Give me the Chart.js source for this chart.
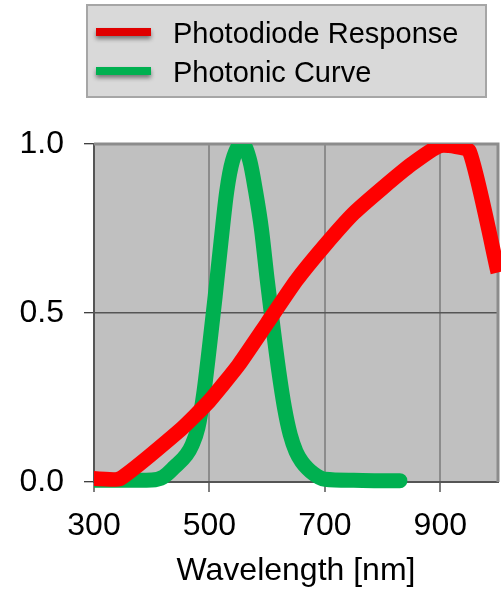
<!DOCTYPE html>
<html>
<head>
<meta charset="utf-8">
<script src="https://cdn.jsdelivr.net/npm/chart.js@4.4.0/dist/chart.umd.min.js"></script>
<style>
  html, body { margin: 0; padding: 0; background: #fff; }
  #wrap { width: 501px; height: 589px; }
</style>
</head>
<body>
<div id="wrap"><canvas id="chart" width="501" height="589"></canvas></div>
<script>
// Photodiode response (red)
const diodeNm = [300, 345, 450, 500, 550, 600, 650, 700, 750, 800, 850, 900, 950, 1000];
const diodeVal = [0.01, 0.01, 0.155, 0.24, 0.345, 0.47, 0.595, 0.70, 0.795, 0.87, 0.94, 0.995, 0.98, 0.62];

// Photonic curve (green)
const photonNm = [300, 350, 400, 420, 440, 460, 470, 480, 490, 500, 510, 520, 530, 540, 557,
  570, 580, 590, 600, 610, 620, 630, 640, 650, 660, 670, 680, 690, 700, 750, 800, 830];
const photonVal = [0.005, 0.005, 0.006, 0.015, 0.045, 0.08, 0.11, 0.16, 0.26, 0.40, 0.55, 0.71, 0.86, 0.95, 1.0,
  0.95, 0.86, 0.75, 0.60, 0.46, 0.33, 0.22, 0.14, 0.09, 0.06, 0.04, 0.025, 0.014, 0.008, 0.005, 0.004, 0.004];

const seriesLabels = ['Photodiode Response', 'Photonic Curve'];
const xTicks = [300, 500, 700, 900];
const yTicks = [0, 0.5, 1.0];

const FONT = "'Liberation Sans', Arial, sans-serif";

// gray plot background + top/right frame
const plotFrame = {
  id: 'plotFrame',
  beforeDraw(chart) {
    const { ctx, chartArea: a } = chart;
    ctx.save();
    ctx.fillStyle = '#c0c0c0';
    ctx.fillRect(a.left, a.top, a.right - a.left, a.bottom - a.top);
    ctx.restore();
  },
  beforeDatasetsDraw(chart) {
    const { ctx, chartArea: a } = chart;
    ctx.save();
    ctx.strokeStyle = '#8c8c8c';
    ctx.lineWidth = 3;
    ctx.beginPath();
    ctx.moveTo(a.left, a.top);
    ctx.lineTo(a.right, a.top);
    ctx.lineTo(a.right, a.bottom);
    ctx.stroke();
    ctx.restore();
  }
};

// boxed legend above the plot
const boxLegend = {
  id: 'boxLegend',
  afterDraw(chart) {
    const ctx = chart.ctx;
    ctx.save();
    ctx.fillStyle = '#d9d9d9';
    ctx.fillRect(87, 5, 399, 92);
    ctx.strokeStyle = '#a6a6a6';
    ctx.lineWidth = 2;
    ctx.strokeRect(87, 5, 399, 92);

    const rows = [
      { y: 32, color: '#e00000', text: seriesLabels[0] },
      { y: 71, color: '#00b050', text: seriesLabels[1] }
    ];
    rows.forEach(r => {
      ctx.save();
      ctx.shadowColor = 'rgba(0,0,0,0.45)';
      ctx.shadowBlur = 4;
      ctx.shadowOffsetY = 3;
      ctx.fillStyle = r.color;
      ctx.fillRect(96, r.y - 4, 55, 8);
      ctx.restore();
      ctx.fillStyle = '#000';
      ctx.font = '29px ' + FONT;
      ctx.textBaseline = 'middle';
      ctx.textAlign = 'left';
      ctx.fillText(r.text, 173, r.y + 3);
    });
    ctx.restore();
  }
};

new Chart(document.getElementById('chart'), {
  type: 'line',
  data: {
    datasets: [{
      label: seriesLabels[0],
      data: diodeNm.map((x, i) => ({ x: x, y: diodeVal[i] })),
      borderColor: '#ff0000',
      borderWidth: 15,
      pointRadius: 0,
      tension: 0.15,
      borderCapStyle: 'butt',
      borderJoinStyle: 'round',
      clip: { left: 0, top: 0, right: 10, bottom: 10 }
    }, {
      label: seriesLabels[1],
      data: photonNm.map((x, i) => ({ x: x, y: photonVal[i] })),
      borderColor: '#00b050',
      borderWidth: 15,
      pointRadius: 0,
      cubicInterpolationMode: 'monotone',
      borderCapStyle: 'round',
      borderJoinStyle: 'round',
      clip: { left: 0, top: 0, right: 10, bottom: 10 }
    }]
  },
  options: {
    responsive: false,
    animation: false,
    layout: { padding: { top: 144, right: 3, left: 0, bottom: 0 } },
    plugins: {
      legend: { display: false },
      tooltip: { enabled: false }
    },
    scales: {
      x: {
        type: 'linear',
        min: 300,
        max: 1000,
        afterBuildTicks: scale => { scale.ticks = xTicks.map(v => ({ value: v })); },
        afterFit: scale => { scale.height = 107; },
        ticks: {
          color: '#000',
          padding: 15,
          maxRotation: 0,
          font: { family: FONT, size: 32 }
        },
        grid: {
          color: '#8c8c8c',
          lineWidth: 2,
          tickColor: '#000',
          tickWidth: 1,
          tickLength: 10
        },
        border: { color: '#555', width: 2 },
        title: {
          display: true,
          text: 'Wavelength [nm]',
          color: '#000',
          font: { family: FONT, size: 32 },
          padding: { top: 0, bottom: -1 }
        }
      },
      y: {
        min: 0,
        max: 1,
        afterBuildTicks: scale => { scale.ticks = yTicks.map(v => ({ value: v })); },
        afterFit: scale => { scale.width = 94; },
        ticks: {
          color: '#000',
          padding: 20,
          font: { family: FONT, size: 32 },
          callback: v => v.toFixed(1)
        },
        grid: {
          color: '#555',
          lineWidth: 1.5,
          tickColor: '#000',
          tickWidth: 1,
          tickLength: 10
        },
        border: { color: '#555', width: 2 }
      }
    }
  },
  plugins: [plotFrame, boxLegend]
});
</script>
</body>
</html>
